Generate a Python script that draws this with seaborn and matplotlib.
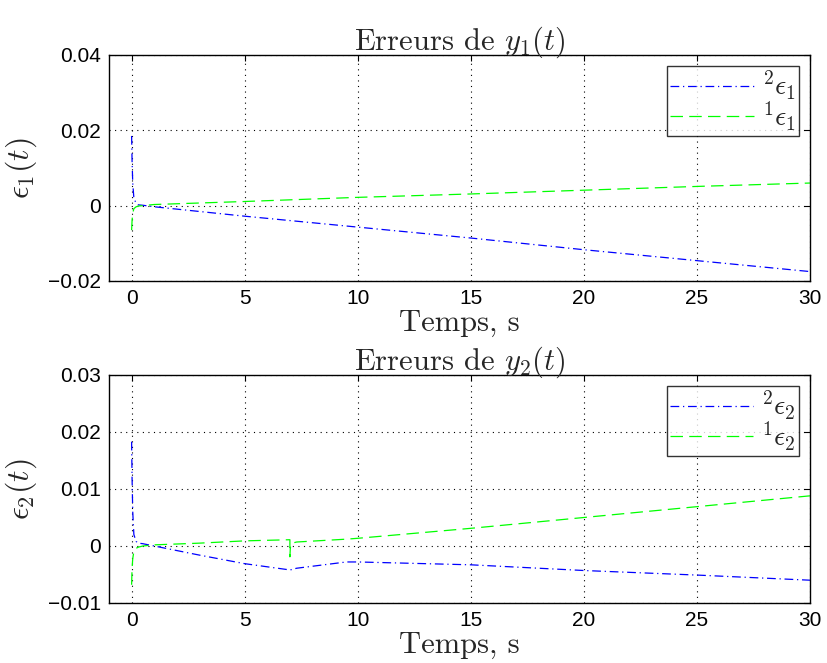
import numpy as np
import seaborn as sns
import matplotlib.pyplot as plt

# time samples (s)
t_top = [0, 0.02, 0.05, 0.1, 0.2, 0.3, 0.5, 1, 5, 10, 15, 20, 25, 30]
err1_2 = [0.0185, 0.012, 0.006, 0.002, 0.0006, 0.0002, 0.0001, -0.0003, -0.0028,
          -0.0057, -0.0086, -0.0117, -0.0146, -0.0175]
err1_1 = [-0.0065, -0.004, -0.002, -0.0008, -0.0003, -0.0001, 0.0, 0.0003, 0.0011,
          0.0022, 0.0031, 0.0041, 0.0051, 0.0060]

t_bot = [0, 0.02, 0.05, 0.1, 0.2, 0.3, 0.5, 1, 3, 5, 7, 7, 7.02, 7.1, 7.3, 9.5, 10,
         15, 20, 25, 30]
err2_2 = [0.0183, 0.012, 0.006, 0.002, 0.0008, 0.0005, 0.0004, 0.0, -0.0016, -0.0031,
          -0.0042, -0.0042, -0.0042, -0.0041, -0.0039, -0.0028, -0.0028,
          -0.0033, -0.0043, -0.0051, -0.0060]
err2_1 = [-0.0068, -0.004, -0.0022, -0.001, -0.0004, -0.0002, 0.0, 0.0002, 0.0005,
          0.0009, 0.0011, -0.0019, -0.0003, 0.0005, 0.0007, 0.0012, 0.00135,
          0.0031, 0.0050, 0.0069, 0.0088]

sns.set_style("white")
plt.rcParams['mathtext.fontset'] = 'cm'
plt.rcParams['font.family'] = ['Liberation Sans', 'DejaVu Sans']

fig = plt.figure(figsize=(8.27, 6.63), dpi=100)
ax1 = fig.add_axes([0.1318, 0.5762, 0.8476, 0.3409])
ax2 = fig.add_axes([0.1318, 0.0905, 0.8476, 0.3439])

panels = [
    (ax1, t_top, err1_2, err1_1, '1', [-0.02, 0.04], [-0.02, 0, 0.02, 0.04]),
    (ax2, t_bot, err2_2, err2_1, '2', [-0.01, 0.03], [-0.01, 0, 0.01, 0.02, 0.03]),
]

serif = {'family': 'cmr10', 'size': 22}

for ax, t, e2, e1, k, ylim, yticks in panels:
    sns.lineplot(x=t, y=e2, ax=ax, color='#0000ff', lw=0.9, estimator=None,
                 sort=False, dashes=False, label=r'${}^2\epsilon_%s$' % k)
    sns.lineplot(x=t, y=e1, ax=ax, color='#00ff00', lw=0.9, estimator=None,
                 sort=False, dashes=False, label=r'${}^1\epsilon_%s$' % k)
    ax.lines[0].set_dashes([7, 3, 1, 3])
    ax.lines[1].set_dashes([10, 5])
    ax.set_xlim(-1, 30)
    ax.set_ylim(*ylim)
    ax.set_xticks([0, 5, 10, 15, 20, 25, 30])
    ax.set_yticks(yticks)
    ax.set_yticklabels(['0' if v == 0 else ('\u2212%g' % -v if v < 0 else '%g' % v)
                        for v in yticks])
    ax.grid(True, color='black', linestyle=(0, (1, 4)), linewidth=0.8)
    ax.tick_params(direction='in', length=4, top=True, right=True,
                   labelsize=15, colors='black', pad=6)
    for s in ax.spines.values():
        s.set_color('black')
        s.set_linewidth(1.0)
    ax.set_title(r'Erreurs de $y_%s(t)$' % k, fontdict=serif, pad=4)
    ax.set_xlabel('Temps, s', fontdict=serif, labelpad=1)
    ax.set_ylabel(r'$\epsilon_%s(t)$' % k, fontsize=23, labelpad=6)
    leg = ax.legend(loc='upper right', fontsize=20, frameon=True, fancybox=False,
                    handlelength=3.0, borderpad=0.1, labelspacing=-0.1,
                    borderaxespad=0.4, handletextpad=0.3)
    leg.get_frame().set_edgecolor('black')
    leg.get_frame().set_linewidth(1.0)

fig.savefig('out.png', dpi=100)
